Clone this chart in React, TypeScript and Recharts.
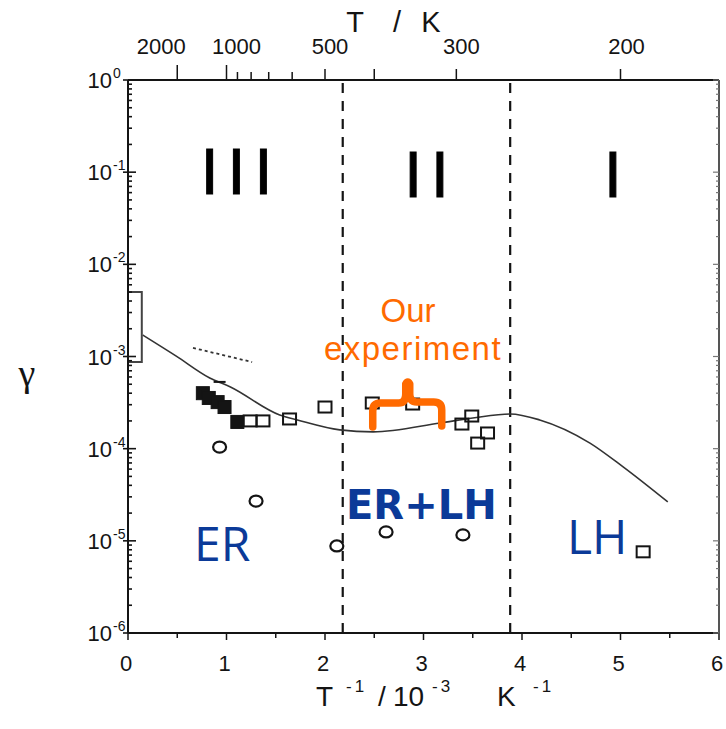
import React from 'react';
import { ComposedChart, Line, Scatter, XAxis, YAxis, ReferenceLine } from 'recharts';

// ---- data ----
const curveX = [0.15, 0.49, 0.83, 1.04, 1.54, 1.72, 2.15, 2.49, 3.17, 3.5, 3.88, 4.18, 4.69, 5.03, 5.48];
const curveG = [1.71e-3, 1.01e-3, 5.85e-4, 4.67e-4, 2.32e-4, 2.05e-4, 1.6e-4, 1.52e-4, 1.9e-4, 2.15e-4, 2.38e-4, 2.05e-4, 1.15e-4, 6.3e-5, 2.64e-5];

const filledX = [0.76, 0.82, 0.91, 0.98, 1.11];
const filledG = [4.0e-4, 3.55e-4, 3.2e-4, 2.83e-4, 1.95e-4];

const openX = [1.24, 1.37, 1.64, 2.0, 2.48, 2.89, 3.39, 3.49, 3.55, 3.65, 5.23];
const openG = [2.0e-4, 2.0e-4, 2.1e-4, 2.83e-4, 3.13e-4, 3.05e-4, 1.85e-4, 2.26e-4, 1.15e-4, 1.48e-4, 7.6e-6];

const circleX = [0.93, 1.3, 2.12, 2.62, 3.4];
const circleG = [1.04e-4, 2.7e-5, 8.8e-6, 1.25e-5, 1.16e-5];

const dashX = [0.93];
const dashG = [5.3e-4];

const dottedX = [0.66, 1.26];
const dottedG = [1.24e-3, 8.7e-4];

const errX = [0.0, 0.14, 0.14, 0.0];
const errG = [5.0e-3, 5.0e-3, 8.7e-4, 8.7e-4];

const braceX = [2.84];
const braceG = [5.3e-4];

const regionBounds = [2.18, 3.88];

const bottomTicks = [0, 0.5, 1, 1.5, 2, 2.5, 3, 3.5, 4, 4.5, 5, 5.5, 6];
const topTempTicks = [2000, 1000, 900, 800, 700, 600, 500, 400, 300, 200];
const topTempLabels = [2000, 1000, 500, 300, 200];

// ---- build tables ----
const zip = (xs: number[], ys: number[]) => xs.map((x, i) => ({ x, y: ys[i] }));
const curveData = zip(curveX, curveG);
const filledData = zip(filledX, filledG);
const openData = zip(openX, openG);
const circleData = zip(circleX, circleG);
const dashData = zip(dashX, dashG);
const dottedData = zip(dottedX, dottedG);
const errData = zip(errX, errG);
const braceData = zip(braceX, braceG);

const topTicks = topTempTicks.map((t) => 1000 / t);
const yTicks: number[] = [];
for (let e = -6; e <= 0; e++) {
  for (let m = 1; m <= 9; m++) {
    if (e === 0 && m > 1) break;
    yTicks.push(m * Math.pow(10, e));
  }
}

// ---- layout ----
const W = 726;
const H = 729;
const PL = 128;
const PT = 80;
const PR = 719;
const PB = 633;
const FONT = '"Liberation Sans", Arial, Helvetica, sans-serif';
const INK = '#141414';
const BLUE = '#0b3a98';
const ORANGE = '#ff6a00';
const topLabelShift: Record<number, number> = { 2000: -16, 1000: 10, 500: 5, 300: 5, 200: 6 };

const isMajorLog = (v: number) => {
  const e = Math.floor(Math.log10(v) + 1e-9);
  const m = v / Math.pow(10, e);
  return Math.abs(m - 1) < 1e-6;
};

const LeftTick = (props: any) => {
  const { y, payload } = props;
  const v = payload.value;
  const major = isMajorLog(v);
  const e = Math.round(Math.log10(v));
  return (
    <g>
      <line x1={major ? PL - 5 : PL} x2={PL + (major ? 8 : 4)} y1={y} y2={y} stroke={INK} strokeWidth={1.6} />
      {major && (
        <text fontFamily={FONT} fill={INK}>
          <tspan x={PL - 16} y={y + 8} fontSize={22} textAnchor="end">10</tspan>
          <tspan x={PL - 15} y={y - 2} fontSize={14}>{e === 0 ? '0' : `-${-e}`}</tspan>
        </text>
      )}
    </g>
  );
};

const RightTick = (props: any) => {
  const { y, payload } = props;
  const major = isMajorLog(payload.value);
  return <line x1={PR} x2={PR - (major ? 6 : 3)} y1={y} y2={y} stroke="#777" strokeWidth={1.2} />;
};

const BottomTick = (props: any) => {
  const { x, payload } = props;
  const v = payload.value;
  const major = Number.isInteger(v);
  return (
    <g>
      <line x1={x} x2={x} y1={PB} y2={PB + (major ? 7 : 5)} stroke={INK} strokeWidth={1.5} />
      {major && (
        <text x={x - 2} y={PB + 38} fontSize={22} fontFamily={FONT} fill={INK} textAnchor="middle">
          {v}
        </text>
      )}
    </g>
  );
};

const TopTick = (props: any) => {
  const { x, payload } = props;
  const t = Math.round(1000 / payload.value);
  const labeled = topTempLabels.includes(t);
  const len = t === 2000 || t === 1000 ? 15 : labeled || t === 400 ? 11 : 8;
  return (
    <g>
      <line x1={x} x2={x} y1={PT} y2={PT - len} stroke={INK} strokeWidth={1.5} />
      {labeled && (
        <text x={x + (topLabelShift[t] || 0)} y={PT - 26} fontSize={22} fontFamily={FONT} fill={INK} textAnchor="middle">
          {t}
        </text>
      )}
    </g>
  );
};

const OpenSquare = (p: any) => (
  <rect x={p.cx - 6.5} y={p.cy - 5.5} width={13} height={11} fill="none" stroke={INK} strokeWidth={2} />
);
const FilledSquare = (p: any) => (
  <rect x={p.cx - 6.5} y={p.cy - 6.5} width={13} height={13} fill={INK} stroke={INK} strokeWidth={1} />
);
const OpenCircle = (p: any) => (
  <ellipse cx={p.cx} cy={p.cy} rx={6.5} ry={5.5} fill="none" stroke={INK} strokeWidth={2.2} />
);
const DashMark = (p: any) => (
  <line x1={p.cx - 6} x2={p.cx + 6} y1={p.cy} y2={p.cy} stroke={INK} strokeWidth={2} />
);
const Brace = (p: any) => {
  const { cx, cy } = p;
  const d = `M ${cx - 35} ${cy + 45} L ${cx - 35} ${cy + 29} Q ${cx - 35} ${cy + 21} ${cx - 27} ${cy + 21} L ${cx - 9} ${cy + 21} Q ${cx - 2} ${cy + 21} ${cx - 2} ${cy + 12} L ${cx - 2} ${cy + 2} Q ${cx} ${cy - 2} ${cx + 2} ${cy + 2} L ${cx + 2} ${cy + 12} Q ${cx + 2} ${cy + 20} ${cx + 9} ${cy + 20} L ${cx + 26} ${cy + 20} Q ${cx + 34} ${cy + 20} ${cx + 34} ${cy + 28} L ${cx + 34} ${cy + 44}`;
  return <path d={d} fill="none" stroke={ORANGE} strokeWidth={7.5} strokeLinecap="round" strokeLinejoin="round" />;
};

export default function App() {
  return (
    <div style={{ position: 'absolute', left: 0, top: 0, width: W, height: H, background: '#fff' }}>
      <ComposedChart width={W} height={H} margin={{ top: 0, right: 0, bottom: 0, left: 0 }}>
        <XAxis
          xAxisId="bottom"
          dataKey="x"
          type="number"
          domain={[0, 6]}
          ticks={bottomTicks}
          interval={0}
          allowDataOverflow
          height={H - PB}
          tickSize={0}
          tickMargin={0}
          tickLine={false}
          tick={BottomTick}
          axisLine={{ stroke: INK, strokeWidth: 2 }}
        />
        <XAxis
          xAxisId="top"
          orientation="top"
          dataKey="x"
          type="number"
          domain={[0, 6]}
          ticks={topTicks}
          interval={0}
          allowDataOverflow
          height={PT}
          tickSize={0}
          tickMargin={0}
          tickLine={false}
          tick={TopTick}
          axisLine={{ stroke: INK, strokeWidth: 2 }}
        />
        <YAxis
          yAxisId="left"
          type="number"
          scale="log"
          domain={[1e-6, 1]}
          ticks={yTicks}
          interval={0}
          allowDataOverflow
          width={PL}
          tickSize={0}
          tickMargin={0}
          tickLine={false}
          tick={LeftTick}
          axisLine={{ stroke: INK, strokeWidth: 2 }}
        />
        <YAxis
          yAxisId="right"
          orientation="right"
          type="number"
          scale="log"
          domain={[1e-6, 1]}
          ticks={yTicks}
          interval={0}
          allowDataOverflow
          width={W - PR}
          tickSize={0}
          tickMargin={0}
          tickLine={false}
          tick={RightTick}
          axisLine={{ stroke: '#555', strokeWidth: 2 }}
        />
        {regionBounds.map((b) => (
          <ReferenceLine key={b} x={b} xAxisId="bottom" yAxisId="left" stroke={INK} strokeWidth={2.2} strokeDasharray="10 8" />
        ))}
        <Line xAxisId="bottom" yAxisId="left" data={curveData} dataKey="y" type="monotone" stroke="#333" strokeWidth={1.6} dot={false} activeDot={false} isAnimationActive={false} />
        <Line xAxisId="top" yAxisId="left" data={dottedData} dataKey="y" type="linear" stroke="#333" strokeWidth={1.8} strokeDasharray="3 3" dot={false} activeDot={false} isAnimationActive={false} />
        <Line xAxisId="bottom" yAxisId="left" data={errData} dataKey="y" type="linear" stroke="#444" strokeWidth={2} dot={false} activeDot={false} isAnimationActive={false} />
        <Scatter xAxisId="bottom" yAxisId="left" data={openData} dataKey="y" shape={OpenSquare} isAnimationActive={false} />
        <Scatter xAxisId="bottom" yAxisId="left" data={filledData} dataKey="y" shape={FilledSquare} isAnimationActive={false} />
        <Scatter xAxisId="bottom" yAxisId="left" data={circleData} dataKey="y" shape={OpenCircle} isAnimationActive={false} />
        <Scatter xAxisId="bottom" yAxisId="left" data={dashData} dataKey="y" shape={DashMark} isAnimationActive={false} />
        <Scatter xAxisId="bottom" yAxisId="left" data={braceData} dataKey="y" shape={Brace} isAnimationActive={false} />
      </ComposedChart>
      <svg width={W} height={H} style={{ position: 'absolute', left: 0, top: 0, pointerEvents: 'none' }}>
        {/* top title */}
        <g fontFamily={FONT} fill={INK} fontSize={29}>
          <text x={355} y={32} textAnchor="middle">T</text>
          <text x={397} y={32} textAnchor="middle">/</text>
          <text x={431} y={32} textAnchor="middle">K</text>
        </g>
        {/* bottom title */}
        <g fontFamily={FONT} fill={INK}>
          <text x={316} y={706} fontSize={28}>T</text>
          <text x={346} y={692} fontSize={17} letterSpacing={3}>-1</text>
          <text x={378} y={706} fontSize={28}>/</text>
          <text x={393} y={706} fontSize={28}>10</text>
          <text x={432} y={692} fontSize={17} letterSpacing={3}>-3</text>
          <text x={497} y={706} fontSize={28}>K</text>
          <text x={533} y={692} fontSize={17} letterSpacing={3}>-1</text>
        </g>
        {/* y title */}
        <text x={27} y={386} fontSize={38} fontFamily={'"Liberation Serif", "DejaVu Serif", serif'} fill={INK} textAnchor="middle">γ</text>
        {/* regions */}
        <g fontFamily={FONT} fill="#000" stroke="#000" strokeWidth={1} fontSize={64}>
          <text x={241} y={194} textAnchor="middle" letterSpacing={9}>III</text>
          <text x={431} y={197} textAnchor="middle" letterSpacing={9}>II</text>
          <text x={613} y={197} textAnchor="middle">I</text>
        </g>
        {/* mechanism labels */}
        <text x={194} y={561} fontSize={48} fontFamily={'"Open Sans", sans-serif'} fill={BLUE}>ER</text>
        <text x={567} y={554} fontSize={48} fontFamily={'"Open Sans", sans-serif'} fill={BLUE}>LH</text>
        <text x={346} y={519} fontSize={40} fontWeight="bold" fontFamily={'"DejaVu Sans", sans-serif'} fill={BLUE}>ER+LH</text>
        {/* experiment */}
        <text x={408} y={322} fontSize={33} fontFamily={FONT} fill={ORANGE} textAnchor="middle">Our</text>
        <text x={413} y={360} fontSize={33} letterSpacing={1.5} fontFamily={FONT} fill={ORANGE} textAnchor="middle">experiment</text>
      </svg>
    </div>
  );
}
